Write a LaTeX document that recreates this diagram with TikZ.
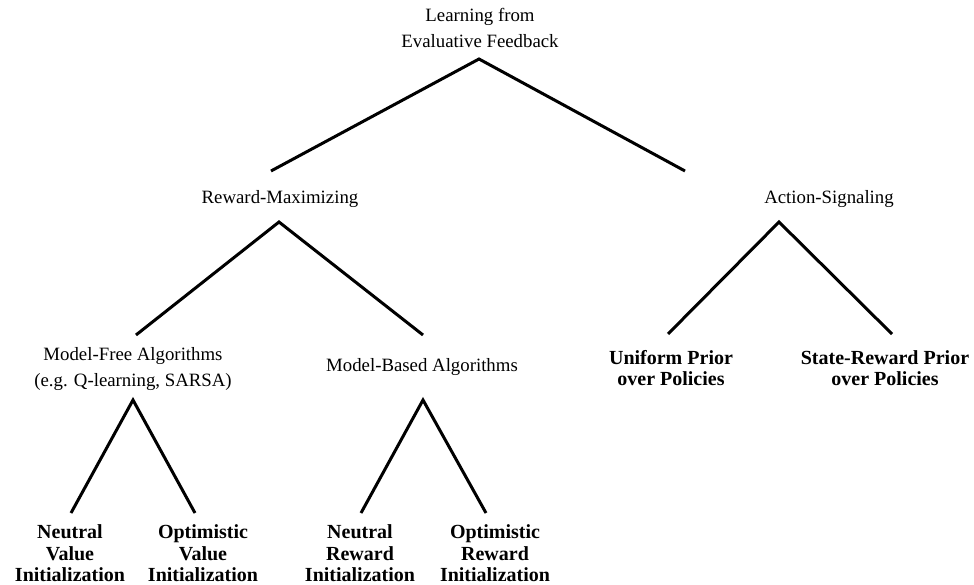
\documentclass[tikz,border=0pt]{standalone}
\usepackage{fontspec}
\setmainfont{Liberation Serif}
\begin{document}
\begin{tikzpicture}[x=1pt,y=-1pt,
  lbl/.style={align=center,font=\fontsize{18.8}{26}\selectfont,inner sep=0pt},
  leaf/.style={align=center,font=\fontsize{20}{21.5}\selectfont\bfseries,inner sep=0pt},
  edge/.style={line width=3pt,line join=miter}]
\useasboundingbox (0,0) rectangle (974,585);
% labels
\node[lbl] (root) at (480,28) {Learning from\\Evaluative Feedback};
\node[lbl] (rm) at (280,199) {Reward-Maximizing};
\node[lbl] (as) at (829,199) {Action-Signaling};
\node[lbl] (mf) at (133,369) {Model-Free Algorithms\\(e.g. Q-learning, SARSA)};
\node[lbl] (mb) at (422,367) {Model-Based Algorithms};
\node[leaf] (up) at (671,368) {Uniform Prior\\over Policies};
\node[leaf] (sr) at (885,368) {State-Reward Prior\\over Policies};
\node[leaf] (nv) at (70,553.5) {Neutral\\Value\\Initialization};
\node[leaf] (ov) at (203,553.5) {Optimistic\\Value\\Initialization};
\node[leaf] (nr) at (360,553.5) {Neutral\\Reward\\Initialization};
\node[leaf] (or) at (495,553.5) {Optimistic\\Reward\\Initialization};
% connector points
\coordinate (root-a) at (479,59);
\coordinate (rm-e) at (271,171);
\coordinate (as-e) at (685,171);
\coordinate (rm-a) at (279,222);
\coordinate (mf-e) at (136,335);
\coordinate (mb-e) at (423,335);
\coordinate (as-a) at (779,222);
\coordinate (up-e) at (668,334);
\coordinate (sr-e) at (892,334);
\coordinate (mf-a) at (133,400);
\coordinate (nv-e) at (71,513);
\coordinate (ov-e) at (195,513);
\coordinate (mb-a) at (423,400);
\coordinate (nr-e) at (361,513);
\coordinate (or-e) at (486,513);
% connectors
\draw[edge] (rm-e) -- (root-a) -- (as-e);
\draw[edge] (mf-e) -- (rm-a) -- (mb-e);
\draw[edge] (up-e) -- (as-a) -- (sr-e);
\draw[edge] (nv-e) -- (mf-a) -- (ov-e);
\draw[edge] (nr-e) -- (mb-a) -- (or-e);
\end{tikzpicture}
\end{document}
